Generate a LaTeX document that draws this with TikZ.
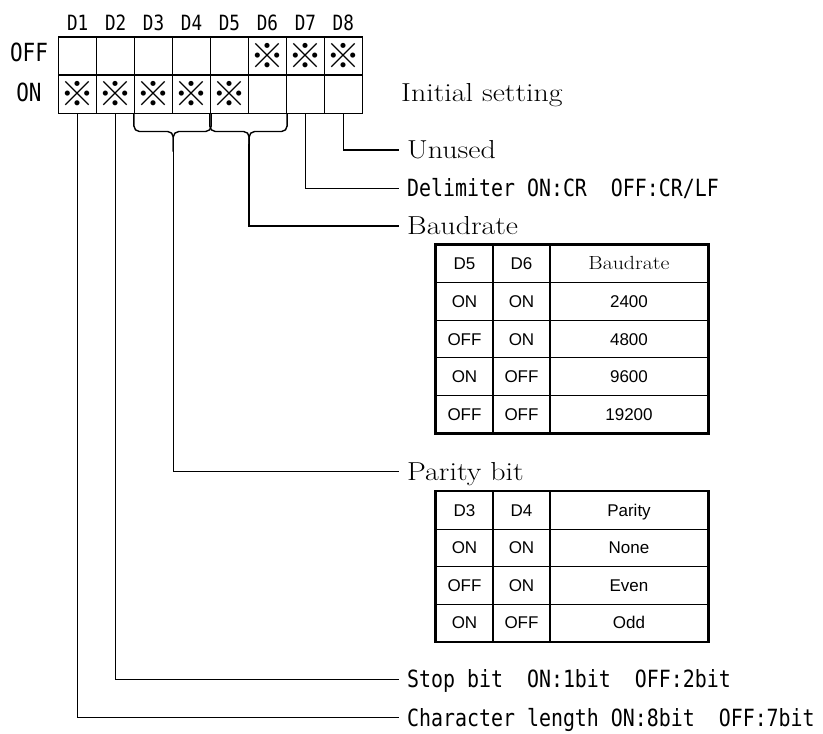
\documentclass[tikz,border=0pt]{standalone}
\usepackage{fontspec}
\usepackage{graphicx}
\usetikzlibrary{calc}
\newfontfamily\goth[FakeStretch=0.84]{DejaVu Sans Mono}
\newfontfamily\sansx{Liberation Sans}
\newfontfamily\cjk{Noto Sans CJK JP}
\newcommand\sxs[1]{\scalebox{1.15}[1]{#1}}
\newcommand\tser[1]{{\rmfamily\fontsize{19}{19}\selectfont\sxs{#1}}}
\begin{document}
\begin{tikzpicture}[x=1pt,y=-1pt,
  cell/.style={draw, line width=1.4pt, minimum width=37.95pt, minimum height=38.3pt, inner sep=0pt, font={\cjk\fontsize{34}{34}\selectfont}},
  dlbl/.style={inner sep=0pt, text height=15pt, text depth=0pt, font={\goth\fontsize{21}{21}\selectfont}},
  oolbl/.style={inner sep=0pt, text height=18pt, text depth=0pt, font={\goth\fontsize{25}{25}\selectfont}},
  glbl/.style={anchor=west, inner xsep=8pt, inner ysep=0pt, text height=17.3pt, text depth=0pt, font={\goth\fontsize{23.7}{24}\selectfont}},
  slbl/.style={anchor=west, inner xsep=8pt, inner ysep=0pt, text height=17.7pt, text depth=0pt, font={\fontsize{26}{26}\selectfont}},
  conn/.style={line width=1.4pt},
  tcell/.style={draw, line width=1.3pt, inner sep=0pt, minimum height=37.6pt, text height=12pt, text depth=0pt, font={\sansx\fontsize{17}{17}\selectfont}},
  tout/.style={line width=2pt}
]
\useasboundingbox (0,0) rectangle (823,734);

% switch grid
\foreach \i in {1,...,8}{
  \node[cell] (off\i) at ({58.7+37.95*(\i-0.5)},56) {\ifnum\i>5 ※\fi};
  \node[cell] (on\i)  at ({58.7+37.95*(\i-0.5)},94.3) {\ifnum\i<6 ※\fi};
  \node[dlbl] (d\i) at ({58.7+37.95*(\i-0.5)},22.5) {D\i};
}
\node[oolbl] (loff) at (29,52) {OFF};
\node[oolbl] (lon) at (29,92) {ON};

% labels
\node[slbl] (init) at (393,93) {\sxs{Initial setting}};
\node[slbl] (unused) at (399,150) {\sxs{Unused}};
\node[glbl] (delim) at (399,188.3) {Delimiter ON:CR\ \ OFF:CR/LF};
\node[slbl] (baud) at (399,226) {\sxs{Baudrate}};
\node[slbl] (parity) at (399,471.7) {\sxs{Parity bit}};
\node[glbl] (stop) at (399,679.3) {Stop bit\ \ ON:1bit\ \ OFF:2bit};
\node[glbl] (charlen) at (399,717.7) {Character length ON:8bit\ \ OFF:7bit};

% connectors
\coordinate (by) at (0,131.5);
\draw[conn] (on8.south) |- (unused.west);
\draw[conn] (on7.south) |- (delim.west);
\draw[conn, rounded corners=5.5pt] (on5.south west) -- (on5.south west |- by) -- (on5.south east |- by) -- ++(0,20);
\draw[conn, rounded corners=5.5pt] (on6.south east) -- (on6.south east |- by) -- (on5.south east |- by) -- ++(0,20);
\draw[conn] ($(on5.south east |- by)+(0,12)$) |- (baud.west);
\draw[conn, rounded corners=5.5pt] (on3.south west) -- (on3.south west |- by) -- (on3.south east |- by) -- ++(0,20);
\draw[conn, rounded corners=5.5pt] (on4.south east) -- (on4.south east |- by) -- (on3.south east |- by) -- ++(0,20);
\draw[conn] ($(on3.south east |- by)+(0,12)$) |- (parity.west);
\draw[conn] (on2.south) |- (stop.west);
\draw[conn] (on1.south) |- (charlen.west);

% baudrate table
\foreach \r/\a/\b/\c in {0/D5/D6/{\tser{Baudrate}},1/ON/ON/2400,2/OFF/ON/4800,3/ON/OFF/9600,4/OFF/OFF/19200}{
  \node[tcell, minimum width=57pt] (bA\r) at (464.5,{245+37.6*\r+18.8}) {\a};
  \node[tcell, minimum width=57pt] (bB\r) at (521.5,{245+37.6*\r+18.8}) {\b};
  \node[tcell, minimum width=158pt] (bC\r) at (629,{245+37.6*\r+18.8}) {\c};
}
\draw[tout] (bA0.north west) rectangle (bC4.south east);

% parity table
\foreach \r/\a/\b/\c in {0/D3/D4/Parity,1/ON/ON/None,2/OFF/ON/Even,3/ON/OFF/Odd}{
  \node[tcell, minimum width=57pt] (pA\r) at (464.5,{491.7+37.5*\r+18.75}) {\a};
  \node[tcell, minimum width=57pt] (pB\r) at (521.5,{491.7+37.5*\r+18.75}) {\b};
  \node[tcell, minimum width=158pt] (pC\r) at (629,{491.7+37.5*\r+18.75}) {\c};
}
\draw[tout] (pA0.north west) rectangle (pC3.south east);
\end{tikzpicture}
\end{document}
